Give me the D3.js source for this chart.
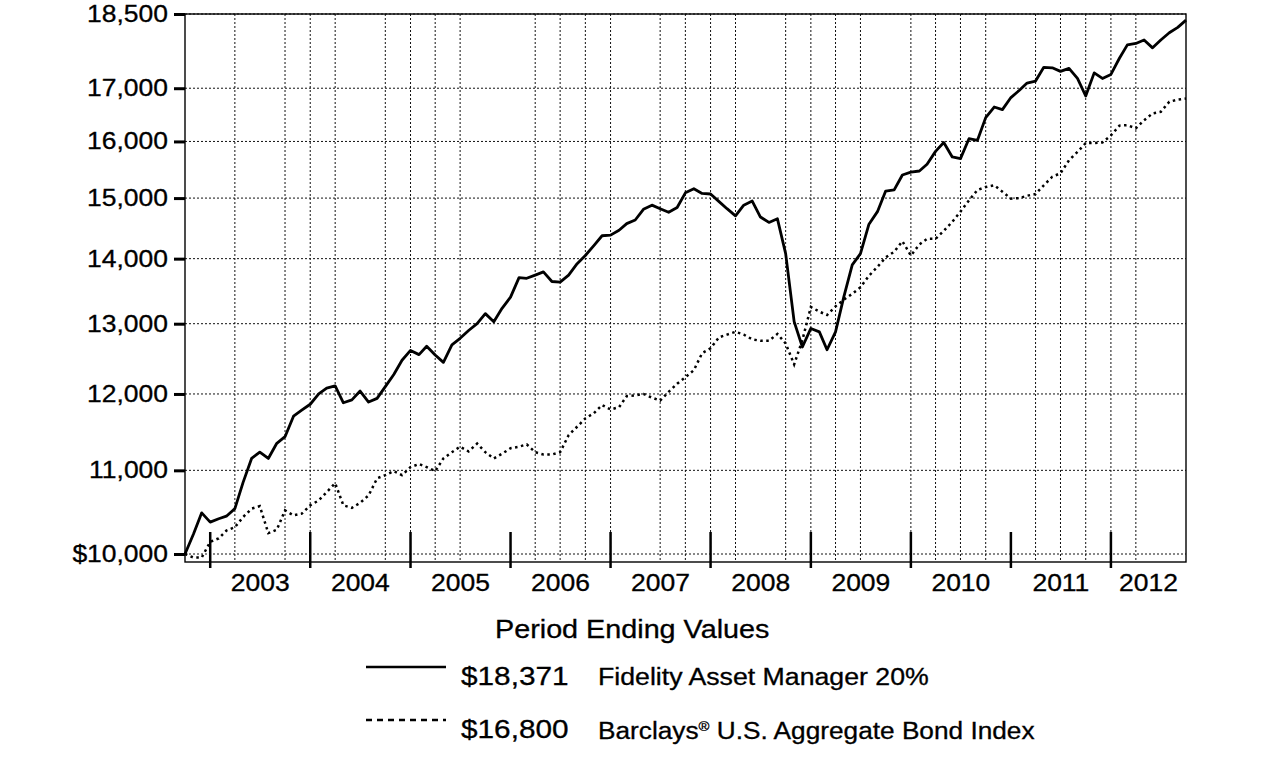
<!DOCTYPE html>
<html>
<head>
<meta charset="utf-8">
<script src="https://cdn.jsdelivr.net/npm/d3@7"></script>
<style>
  body { margin: 0; background: #fff; }
  text { font-family: "Liberation Sans", Arial, sans-serif; fill: #000; stroke: #000; stroke-width: 0.3; }
</style>
</head>
<body>
<svg id="chart" width="1276" height="773"></svg>
<script>
// month-end values, Sep 2002 .. Sep 2012
const firstMonth = '2002-09';

const fidelity = [10000, 10230, 10480, 10370, 10410, 10440, 10530, 10850, 11150, 11230,
    11150, 11344, 11430, 11700, 11780, 11860, 12000, 12080, 12110, 11880,
    11920, 12040, 11890, 11940, 12100, 12270, 12470, 12610, 12550, 12670,
    12545, 12440, 12690, 12785, 12900, 13000, 13150, 13030, 13230, 13400,
    13700, 13690, 13740, 13790, 13640, 13630, 13740, 13920, 14050, 14210,
    14370, 14380, 14460, 14570, 14630, 14810, 14880, 14820, 14760, 14840,
    15090, 15160, 15080, 15070, 14940, 14820, 14700, 14880, 14950, 14680,
    14590, 14650, 14080, 13030, 12660, 12930, 12880, 12620, 12880, 13400,
    13900, 14080, 14560, 14770, 15120, 15140, 15400, 15450, 15470, 15590,
    15820, 15980, 15720, 15690, 16050, 16020, 16440, 16640, 16590, 16820,
    16960, 17100, 17140, 17410, 17400, 17330, 17390, 17190, 16850, 17300,
    17190, 17270, 17590, 17860, 17890, 17960, 17800, 17960, 18110, 18220,
    18371];

const barclays = [10000, 9960, 9960, 10140, 10180, 10270, 10310, 10430, 10530, 10560,
    10240, 10280, 10510, 10450, 10470, 10570, 10630, 10730, 10840, 10570,
    10540, 10600, 10690, 10900, 10940, 10990, 10940, 11040, 11080, 11040,
    10990, 11150, 11230, 11300, 11240, 11340, 11230, 11150, 11210, 11280,
    11300, 11330, 11230, 11200, 11200, 11230, 11450, 11560, 11670, 11740,
    11850, 11790, 11820, 11970, 11980, 12000, 11950, 11910, 12030, 12140,
    12230, 12330, 12570, 12640, 12800, 12840, 12880, 12840, 12770, 12750,
    12750, 12850, 12710, 12410, 12760, 13250, 13180, 13130, 13260, 13360,
    13450, 13550, 13730, 13870, 14020, 14110, 14280, 14050, 14230, 14320,
    14320, 14450, 14600, 14770, 14960, 15140, 15190, 15220, 15110, 14990,
    15000, 15040, 15070, 15220, 15370, 15430, 15660, 15810, 15970, 15970,
    15980, 16110, 16290, 16300, 16240, 16390, 16520, 16550, 16740, 16780,
    16800];

const yTicks = [10000, 11000, 12000, 13000, 14000, 15000, 16000, 17000, 18500];
const years = ['2003', '2004', '2005', '2006', '2007', '2008', '2009', '2010', '2011', '2012'];
// quarter ends that carry a dotted vertical grid line
const gridQuarters = ['2003-03', '2003-09', '2003-12', '2004-03', '2004-09', '2004-12', '2005-03', '2005-06',
    '2006-03', '2006-06', '2006-09', '2006-12', '2007-06', '2007-09', '2007-12', '2008-03',
    '2008-09', '2008-12', '2009-03', '2009-06', '2009-12', '2010-03', '2010-06', '2010-09',
    '2011-03', '2011-06', '2011-09', '2011-12', '2012-03'];

const seriesNames = ['Fidelity Asset Manager 20%', 'Barclays'];
const endValues = ['$18,371', '$16,800'];

const STRETCH = 1.15;
const plotLeft = 185, plotRight = 1186, plotTop = 14, plotBottom = 562;

const parseMonth = d3.timeParse('%Y-%m');
// a month-end sits on the first day of the following month
const monthEnd = s => d3.timeMonth.offset(parseMonth(s), 1);
const start = monthEnd(firstMonth);
const dates = fidelity.map((d, i) => d3.timeMonth.offset(start, i));
const end = dates[dates.length - 1];

const svg = d3.select('#chart');

const x = d3.scaleTime().domain([start, end]).range([plotLeft, plotRight]);
const y = d3.scaleLog().domain([10000, 18500]).range([554, plotTop]);

function stretch(sel, k) {
    sel.each(function () {
        const w = this.getComputedTextLength();
        d3.select(this).attr('textLength', w * k).attr('lengthAdjust', 'spacingAndGlyphs');
    });
}

// grid
svg.append('g')
    .selectAll('line')
    .data(yTicks)
    .join('line')
    .attr('x1', plotLeft).attr('x2', plotRight)
    .attr('y1', d => y(d)).attr('y2', d => y(d))
    .attr('stroke', '#111').attr('stroke-width', 1).attr('stroke-dasharray', '2,2');

svg.append('g')
    .selectAll('line')
    .data(gridQuarters)
    .join('line')
    .attr('x1', d => x(monthEnd(d))).attr('x2', d => x(monthEnd(d)))
    .attr('y1', plotTop).attr('y2', plotBottom)
    .attr('stroke', '#111').attr('stroke-width', 1).attr('stroke-dasharray', '2,2');

// frame
svg.append('rect')
    .attr('x', plotLeft).attr('y', plotTop)
    .attr('width', plotRight - plotLeft).attr('height', plotBottom - plotTop)
    .attr('fill', 'none').attr('stroke', '#000').attr('stroke-width', 1.4);

// y axis
const yAxis = svg.append('g')
    .attr('transform', `translate(${plotLeft},0)`)
    .call(d3.axisLeft(y)
        .tickValues(yTicks)
        .tickSize(11)
        .tickPadding(6)
        .tickFormat(d => (d === 10000 ? '$' : '') + d3.format(',')(d)));
yAxis.select('.domain').remove();
yAxis.selectAll('.tick line').attr('stroke', '#000').attr('stroke-width', 3);
yAxis.selectAll('.tick text')
    .attr('font-size', 23)
    .attr('font-family', '"Liberation Sans", Arial, sans-serif')
    .call(stretch, STRETCH);

// year ticks and labels
const yearStarts = years.map(yr => parseMonth(yr + '-01'));
svg.append('g')
    .selectAll('line')
    .data(yearStarts)
    .join('line')
    .attr('x1', d => x(d)).attr('x2', d => x(d))
    .attr('y1', 532).attr('y2', 568)
    .attr('stroke', '#000').attr('stroke-width', 2.5);

svg.append('g')
    .selectAll('text')
    .data(years)
    .join('text')
    .attr('x', yr => {
        const a = parseMonth(yr + '-01');
        const b = d3.min([d3.timeYear.offset(a, 1), end]);
        return (x(a) + x(b)) / 2;
    })
    .attr('y', 591)
    .attr('text-anchor', 'middle')
    .attr('font-size', 23)
    .text(d => d)
    .call(stretch, STRETCH);

// lines
const line = d3.line()
    .x((d, i) => x(dates[i]))
    .y(d => y(d));

svg.append('path')
    .attr('d', line(barclays))
    .attr('fill', 'none')
    .attr('stroke', '#000')
    .attr('stroke-width', 2.5)
    .attr('stroke-dasharray', '2.5,3.5');

svg.append('path')
    .attr('d', line(fidelity))
    .attr('fill', 'none')
    .attr('stroke', '#000')
    .attr('stroke-width', 2.8)
    .attr('stroke-linejoin', 'round');

// legend
svg.append('text')
    .attr('x', 495).attr('y', 638)
    .attr('font-size', 25)
    .text('Period Ending Values')
    .call(stretch, STRETCH);

const rows = [
    { y: 667, dash: null, value: endValues[0] },
    { y: 720, dash: '6,5', value: endValues[1] }
];

rows.forEach(r => {
    svg.append('line')
        .attr('x1', 366).attr('x2', 446)
        .attr('y1', r.y).attr('y2', r.y)
        .attr('stroke', '#000')
        .attr('stroke-width', 2.4)
        .attr('stroke-dasharray', r.dash);
    svg.append('text')
        .attr('x', 461).attr('y', r.y + 18)
        .attr('font-size', 25)
        .text(r.value)
        .call(stretch, 1.19);
});

svg.append('text')
    .attr('x', 598).attr('y', 685)
    .attr('font-size', 23)
    .text(seriesNames[0])
    .call(stretch, 1.16);

const bText = svg.append('text')
    .attr('x', 598).attr('y', 739)
    .attr('font-size', 23);
bText.append('tspan').text(seriesNames[1]);
bText.append('tspan').attr('font-size', 13).attr('dy', -8).text('®');
bText.append('tspan').attr('dy', 8).text(' U.S. Aggregate Bond Index');
bText.call(stretch, 1.14);
</script>
</body>
</html>
